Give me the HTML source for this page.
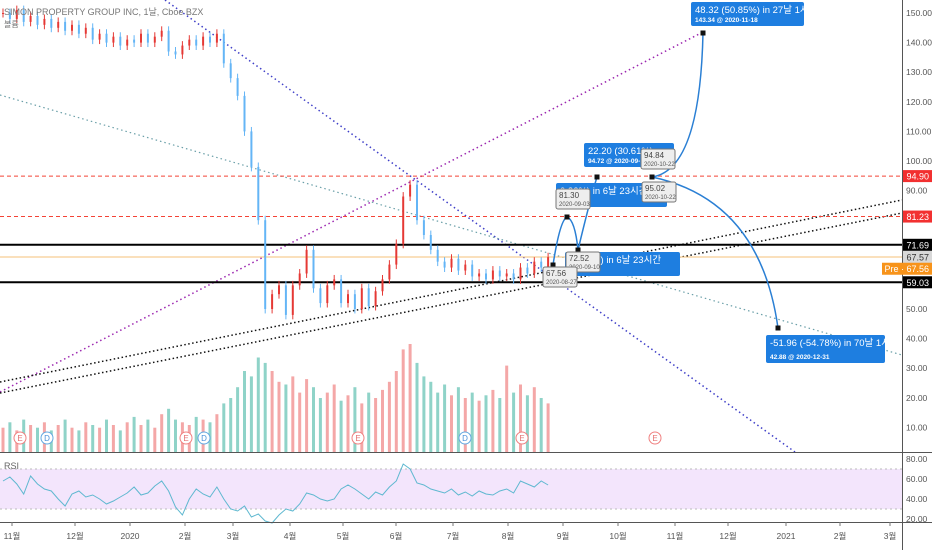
<!DOCTYPE html>
<html><head><meta charset="utf-8"><style>
html,body{margin:0;padding:0;background:#fff;}
svg{display:block;font-family:"Liberation Sans","Noto Sans CJK KR",sans-serif;}
</style></head><body>
<svg id="c" width="932" height="550" viewBox="0 0 932 550" xmlns="http://www.w3.org/2000/svg">
<g id="grid"></g>
<g id="vol"></g>
<g id="lines"></g>
<g id="candles"></g>
<g id="rsi"></g>
<g id="ann"></g>
<g id="axes"></g>
</svg>
<script>
const closes=[150,148,151,147,149,146,148,145,147,144,146,143,145,141,143,140,142,139,141,140,143,140,142,144,137,136,139,141,139,142,140,143,133,128,122,110,98,80,50,55,58,48,58,62,70,57,52,58,60,52,55,50,57,51,56,60,65,72,88,92,80,75,70,66,64,67,63,65,61,62,60,63,61,62,60,64,62,66,64,67.5];
const volumes=[9,11,8,12,10,9,11,8,10,12,9,8,11,10,9,12,10,8,11,13,10,12,9,14,16,12,11,10,13,12,11,14,18,20,24,30,28,35,33,30,26,25,28,22,27,24,20,22,25,19,21,24,18,22,20,23,26,30,38,40,33,28,26,22,25,21,24,20,22,19,21,23,20,32,22,25,21,24,20,18];
const rsiVals=[58,62,55,45,63,55,50,48,40,33,45,48,42,44,40,35,38,42,46,52,44,46,53,58,48,32,24,40,50,45,42,52,40,30,28,33,22,25,18,16,24,30,28,35,46,44,40,38,40,50,54,50,45,40,47,44,52,58,75,70,56,54,50,48,46,50,44,47,43,48,45,44,48,50,46,58,55,52,58,54];
const priceTicks=[150,140,130,120,110,100,90,50,40,30,20,10];
const rsiTicks=[80,60,40,20];
const monthLabels=["11월","12월","2020","2월","3월","4월","5월","6월","7월","8월","9월","10월","11월","12월","2021","2월","3월"];
const monthX=[12,75,130,185,233,290,343,396,453,508,563,618,675,728,786,840,890];
const events=[["E",20],["D",47],["E",186],["D",204],["E",358],["D",465],["E",522],["E",655]];

const NS="http://www.w3.org/2000/svg";
function mk(p,t,a,txt){const e=document.createElementNS(NS,t);for(const k in a)e.setAttribute(k,a[k]);if(txt!==undefined)e.textContent=txt;p.appendChild(e);return e;}
const yP=p=>161-(p-100)*2.96;
const yR=v=>459+(80-v);
const xI=i=>3+i*6.9;
const yV=v=>452-v*2.7;
const G=id=>document.getElementById(id);

const ax=G('axes');
let e;
e=mk(ax,'line',{x1:0,y1:452.5,x2:932,y2:452.5,stroke:'#555','stroke-width':1});

e=mk(ax,'line',{x1:0,y1:522.5,x2:932,y2:522.5,stroke:'#555','stroke-width':1});

e=mk(ax,'line',{x1:902.5,y1:0,x2:902.5,y2:550,stroke:'#555','stroke-width':1});


const vg=G('vol');
volumes.forEach((v,i)=>{const up=i==0||closes[i]>=closes[i-1];
 const r=mk(vg,'rect',{x:xI(i)-1.5,y:yV(v),width:3,height:v*2.7,fill:up?'#f4a7a7':'#8fd3c8'});
 });

const cg=G('candles');
closes.forEach((c,i)=>{const o=i==0?c:closes[i-1];const up=c>=o;
 const col=up?'#e53935':'#64b5f6';
 const hi=Math.max(o,c)+1.5,lo=Math.min(o,c)-1.5;
 const w=mk(cg,'line',{x1:xI(i),y1:yP(hi),x2:xI(i),y2:yP(lo),stroke:col,'stroke-width':1});
 
 const b=mk(cg,'rect',{x:xI(i)-1,y:yP(Math.max(o,c)),width:2,height:Math.max(1,Math.abs(o-c)*2.96),fill:col});
 });

const lg=G('lines');
function ln(a,name){const l=mk(lg,'line',a);return l;}
ln({x1:0,y1:392,x2:703,y2:32,stroke:'#9c27b0','stroke-width':1.5,'stroke-dasharray':'1.5 3'},'purple-trendline');
ln({x1:165,y1:0,x2:795,y2:452,stroke:'#3f3fc8','stroke-width':1.5,'stroke-dasharray':'1.5 3'},'blue-trendline');
ln({x1:0,y1:95,x2:902,y2:355,stroke:'#6a9fa8','stroke-width':1.2,'stroke-dasharray':'1.5 3'},'teal-trendline');
ln({x1:0,y1:382,x2:902,y2:200,stroke:'#111','stroke-width':1.5,'stroke-dasharray':'1.5 2.5'},'black-trendline-upper');
ln({x1:0,y1:393,x2:902,y2:213,stroke:'#111','stroke-width':1.5,'stroke-dasharray':'1.5 2.5'},'black-trendline-lower');
ln({x1:0,y1:yP(94.9),x2:902,y2:yP(94.9),stroke:'#f44336','stroke-width':1,'stroke-dasharray':'4 3'},'resistance-94-90');
ln({x1:0,y1:yP(81.23),x2:902,y2:yP(81.23),stroke:'#f44336','stroke-width':1,'stroke-dasharray':'4 3'},'resistance-81-23');
ln({x1:0,y1:yP(71.69),x2:902,y2:yP(71.69),stroke:'#000','stroke-width':2},'level-71-69');
ln({x1:0,y1:yP(59.03),x2:902,y2:yP(59.03),stroke:'#000','stroke-width':2},'level-59-03');
ln({x1:0,y1:yP(67.57),x2:902,y2:yP(67.57),stroke:'#f5c27a','stroke-width':1},'last-price-line');

const rg=G('rsi');
e=mk(rg,'rect',{x:0,y:yR(70),width:902,height:40,fill:'#f3e5fc'});

[70,30].forEach(v=>{e=mk(rg,'line',{x1:0,y1:yR(v),x2:902,y2:yR(v),stroke:'#bbb','stroke-dasharray':'2 3'});
 });
e=mk(rg,'polyline',{points:rsiVals.map((v,i)=>xI(i)+','+yR(v)).join(' '),fill:'none',stroke:'#5fb8d0','stroke-width':1});

e=mk(rg,'text',{x:4,y:469,'font-size':9,fill:'#666'},'RSI');


const ag=G('ann');
function path(d,name){const p=mk(ag,'path',{d:d,fill:'none',stroke:'#2a7fd4','stroke-width':1.5});}
path('M553,265 Q560,220 567,217 Q575,220 578,250 Q590,200 597,177 M652,177 Q700,170 703,33','projection-path-up');
path('M652,177 Q760,200 778,328','projection-path-down');
[[553,265],[567,217],[578,250],[597,177],[652,177],[703,33],[778,328]].forEach(p=>{e=mk(ag,'rect',{x:p[0]-2.5,y:p[1]-2.5,width:5,height:5,fill:'#111'});});
function box(x,y,w,h,l1,l2,name){const g=mk(ag,'g',{});
 mk(g,'rect',{x:x,y:y,width:w,height:h,rx:2,fill:'#1e7ee0'});
 mk(g,'text',{x:x+4,y:y+11,'font-size':9.5,fill:'#fff'},l1);
 mk(g,'text',{x:x+4,y:y+h-4,'font-size':6.5,fill:'#fff','font-weight':'bold'},l2);}
box(691,2,113,24,'48.32 (50.85%) in 27날 1시간','143.34 @ 2020-11-18','label-target-up');
box(766,335,119,28,'-51.96 (-54.78%) in 70날 1시간','42.88 @ 2020-12-31','label-target-down');
box(556,183,111,24,'0.32%) in 6날 23시간','23-09-04','label-move-2');
box(565,252,115,24,'11.39%) in 6날 23시간','20-09-11','label-move-1');
box(584,143,90,24,'22.20 (30.61%)','94.72 @ 2020-09-22','label-move-3');
function gbox(x,y,l1,l2,name){const g=mk(ag,'g',{});
 mk(g,'rect',{x:x,y:y,width:34,height:20,rx:2,fill:'#eee',stroke:'#777'});
 mk(g,'text',{x:x+3,y:y+9,'font-size':8,fill:'#444'},l1);
 mk(g,'text',{x:x+3,y:y+17,'font-size':6,fill:'#555'},l2);}
gbox(641,149,'94.84','2020-10-22','point-label-94-84');
gbox(642,182,'95.02','2020-10-22','point-label-95-02');
gbox(556,189,'81.30','2020-09-03','point-label-81-30');
gbox(566,252,'72.52','2020-09-10','point-label-72-52');
gbox(543,267,'67.56','2020-08-27','point-label-67-56');

events.forEach(ev=>{const c=ev[0]=='E';const g=mk(ag,'g',{});
 mk(g,'circle',{cx:ev[1],cy:438,r:6,fill:'#fff',stroke:c?'#f08080':'#64a8e0'});
 mk(g,'text',{x:ev[1],y:441,'font-size':8,fill:c?'#e57373':'#4a90d9','text-anchor':'middle'},ev[0]);});

e=mk(ag,'text',{x:4,y:15,'font-size':9,fill:'#777'},'SIMON PROPERTY GROUP INC, 1날, Cboe BZX');

e=mk(ag,'text',{x:4,y:27,'font-size':8,fill:'#777'},'볼륨');


priceTicks.forEach(p=>{e=mk(ax,'text',{x:906,y:yP(p)+3,'font-size':8.5,fill:'#555'},p.toFixed(2));
 });
rsiTicks.forEach(v=>{e=mk(ax,'text',{x:906,y:yR(v)+3,'font-size':8.5,fill:'#555'},v.toFixed(2));
 });
function tag(p,txt,bg,fg,name,x0){const g=mk(ax,'g',{});
 mk(g,'rect',{x:x0||903,y:yP(p)-6,width:932-(x0||903),height:12,fill:bg});
 mk(g,'text',{x:929,y:yP(p)+3.5,'font-size':9,fill:fg,'text-anchor':'end'},txt);}
tag(94.9,'94.90','#f23030','#fff','tag-94-90');
tag(81.23,'81.23','#f23030','#fff','tag-81-23');
tag(71.69,'71.69','#000','#fff','tag-71-69');
tag(67.57,'67.57','#d8d8d8','#333','tag-67-57');
tag(63.6,'Pre · 67.56','#f7931a','#fff','tag-premarket',882);
tag(59.03,'59.03','#000','#fff','tag-59-03');
monthLabels.forEach((m,i)=>{e=mk(ax,'text',{x:monthX[i],y:539,'font-size':8.5,fill:'#555','text-anchor':'middle'},m);
 
 e=mk(ax,'line',{x1:monthX[i],y1:522,x2:monthX[i],y2:526,stroke:'#777'});
 });
</script>
</body></html>
